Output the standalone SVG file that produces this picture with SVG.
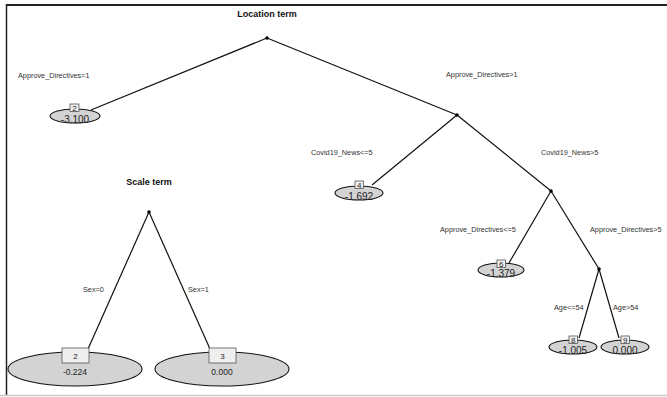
<svg xmlns="http://www.w3.org/2000/svg" width="667" height="397" viewBox="0 0 667 397">
<style>
.edge{stroke:#111;stroke-width:1.2;fill:none}
.dot{fill:#000}
.leaf{fill:#d3d3d3;stroke:#111;stroke-width:1.1}
.box{fill:#efefef;stroke:#555;stroke-width:0.8}
.lbl{font-family:"Liberation Sans",Arial,sans-serif;font-size:7.3px;fill:#333}
.title{font-family:"Liberation Sans",Arial,sans-serif;font-size:9px;font-weight:bold;fill:#111;text-anchor:middle}
.val{font-family:"Liberation Sans",Arial,sans-serif;font-size:10px;fill:#222;text-anchor:middle}
.id{font-family:"Liberation Sans",Arial,sans-serif;font-size:8px;fill:#222;text-anchor:middle}
.bval{font-family:"Liberation Sans",Arial,sans-serif;font-size:8.5px;fill:#222;text-anchor:middle}
</style>
<rect width="667" height="397" fill="#fff"/>
<line x1="6" y1="5" x2="667" y2="5" stroke="#222" stroke-width="2"/>
<line x1="6.5" y1="4" x2="6.5" y2="395" stroke="#222" stroke-width="1.5"/>
<line x1="0" y1="395.5" x2="667" y2="395.5" stroke="#ccc" stroke-width="1.5"/>

<text class="title" x="267" y="17">Location term</text>
<text class="title" x="149" y="185">Scale term</text>

<g id="connectors">
<line class="edge" x1="267" y1="38" x2="91" y2="110"/>
<line class="edge" x1="267" y1="38" x2="457" y2="115"/>
<line class="edge" x1="457" y1="115" x2="372" y2="185"/>
<line class="edge" x1="457" y1="115" x2="551" y2="191"/>
<line class="edge" x1="551" y1="191" x2="509" y2="263"/>
<line class="edge" x1="551" y1="191" x2="599" y2="269"/>
<line class="edge" x1="599" y1="269" x2="579" y2="338"/>
<line class="edge" x1="599" y1="269" x2="619" y2="338"/>
<line class="edge" x1="149" y1="212" x2="88" y2="349"/>
<line class="edge" x1="149" y1="212" x2="210" y2="349"/>
<text class="lbl" x="18" y="77.5">Approve_Directives=1</text>
<text class="lbl" x="446" y="76.5">Approve_Directives&gt;1</text>
<text class="lbl" x="311" y="154.5">Covid19_News&lt;=5</text>
<text class="lbl" x="541" y="154.5">Covid19_News&gt;5</text>
<text class="lbl" x="440" y="231.5">Approve_Directives&lt;=5</text>
<text class="lbl" x="590" y="231.5">Approve_Directives&gt;5</text>
<text class="lbl" x="554" y="309.5">Age&lt;=54</text>
<text class="lbl" x="613" y="309.5">Age&gt;54</text>
<text class="lbl" x="83" y="291.5">Sex=0</text>
<text class="lbl" x="188" y="291.5">Sex=1</text>
</g>

<g id="loc1"><circle class="dot" cx="267" cy="38" r="1.8"/></g>
<g id="loc3"><circle class="dot" cx="457" cy="115" r="1.8"/></g>
<g id="loc5"><circle class="dot" cx="551" cy="191" r="1.8"/></g>
<g id="loc7"><circle class="dot" cx="599" cy="269" r="1.8"/></g>

<g id="loc2">
<ellipse class="leaf" cx="75" cy="116" rx="25" ry="7"/>
<rect class="box" x="70" y="104" width="9" height="7.5"/>
<text class="id" x="74.5" y="110.5">2</text>
<text class="val" x="75" y="122.5">-3.100</text>
</g>
<g id="loc4">
<ellipse class="leaf" cx="359" cy="193" rx="24" ry="7"/>
<rect class="box" x="355" y="181" width="8.5" height="7.5"/>
<text class="id" x="359.2" y="187.5">4</text>
<text class="val" x="359" y="199.5">-1.692</text>
</g>
<g id="loc6">
<ellipse class="leaf" cx="501" cy="270" rx="23" ry="7"/>
<rect class="box" x="497" y="260" width="8.5" height="7.5"/>
<text class="id" x="501.2" y="266.5">6</text>
<text class="val" x="501" y="276.5">-1.379</text>
</g>
<g id="loc8">
<ellipse class="leaf" cx="573" cy="347" rx="24" ry="7"/>
<rect class="box" x="569" y="336" width="8.5" height="7.5"/>
<text class="id" x="573.2" y="342.5">8</text>
<text class="val" x="573" y="353.5">-1.005</text>
</g>
<g id="loc9">
<ellipse class="leaf" cx="625" cy="347" rx="24" ry="7"/>
<rect class="box" x="621" y="336" width="8.5" height="7.5"/>
<text class="id" x="625.2" y="342.5">9</text>
<text class="val" x="625" y="353.5">0.000</text>
</g>

<g id="scale1"><circle class="dot" cx="149" cy="212" r="1.8"/></g>
<g id="scale2">
<ellipse class="leaf" cx="75" cy="369" rx="67" ry="17"/>
<rect class="box" x="62" y="348" width="27" height="15"/>
<text class="id" x="75.5" y="359">2</text>
<text class="bval" x="75" y="375">-0.224</text>
</g>
<g id="scale3">
<ellipse class="leaf" cx="222" cy="369" rx="67" ry="17"/>
<rect class="box" x="209" y="348" width="27" height="15"/>
<text class="id" x="222.5" y="359">3</text>
<text class="bval" x="222" y="375">0.000</text>
</g>
</svg>
